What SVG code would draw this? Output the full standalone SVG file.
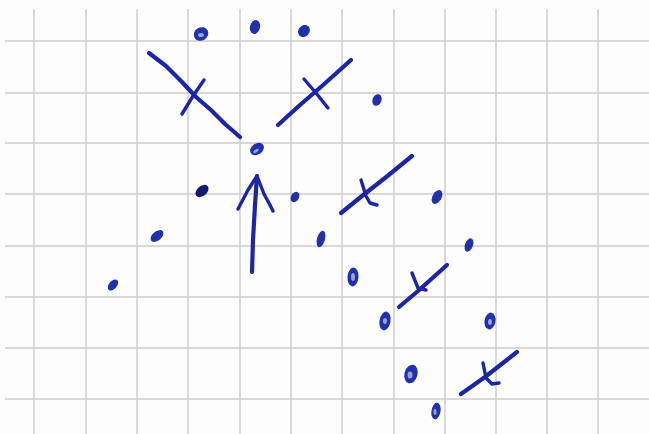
<svg xmlns="http://www.w3.org/2000/svg" width="649" height="434" viewBox="0 0 649 434">
<style>
.g{stroke:#cbcbcb;stroke-width:1.4;fill:none}
.ink{stroke:#1c25a3;stroke-linecap:round;stroke-linejoin:round;fill:none}
.t{stroke-width:4.2}
.m{stroke-width:3.4}
.d{fill:#2230ab}
.h{fill:#98a2dc}
</style>
<rect width="649" height="434" fill="#fdfdfd"/>
<g id="grid">
<path class="g" d="M34 9V434M86 9V434M137 9V434M188 9V434M240 9V434M291 9V434M342 9V434M394 9V434M445 9V434M496 9V434M547 9V434M598 9V434"/>
<path class="g" d="M5 41H649M5 93H649M5 143H649M5 194H649M5 246H649M5 297H649M5 348H649M5 399H649"/>
</g>
<g id="dots">
<ellipse class="d" cx="201" cy="34" rx="7.5" ry="6.5" transform="rotate(-30 201 34)"/>
<ellipse class="h" cx="201" cy="35" rx="3" ry="2"/>
<ellipse class="d" cx="255" cy="27" rx="5" ry="7" transform="rotate(15 255 27)"/>
<ellipse class="d" cx="304" cy="31" rx="5.5" ry="6.5" transform="rotate(40 304 31)"/>
<ellipse class="d" cx="377" cy="100" rx="4.5" ry="6" transform="rotate(20 377 100)"/>
<ellipse class="d" cx="257" cy="149" rx="7.5" ry="5.5" transform="rotate(-35 257 149)"/>
<ellipse class="h" cx="256" cy="151" rx="3" ry="1.5" transform="rotate(-35 256 151)"/>
<ellipse fill="#101a70" cx="202" cy="191" rx="7.5" ry="5" transform="rotate(-40 202 191)"/>
<ellipse class="d" cx="295" cy="197" rx="4" ry="5.5" transform="rotate(30 295 197)"/>
<ellipse class="d" cx="437" cy="197" rx="4.5" ry="7.5" transform="rotate(30 437 197)"/>
<ellipse class="d" cx="321" cy="239" rx="4" ry="8.5" transform="rotate(15 321 239)"/>
<ellipse class="d" cx="157" cy="236" rx="7.5" ry="4.5" transform="rotate(-40 157 236)"/>
<ellipse class="d" cx="113" cy="285" rx="4" ry="6.5" transform="rotate(40 113 285)"/>
<ellipse class="d" cx="469" cy="245" rx="4" ry="7" transform="rotate(20 469 245)"/>
<ellipse class="d" cx="353" cy="277" rx="5.5" ry="9.5" transform="rotate(5 353 277)"/>
<ellipse class="h" cx="353" cy="277" rx="2" ry="4"/>
<ellipse class="d" cx="385" cy="321" rx="5.5" ry="9.5" transform="rotate(10 385 321)"/>
<ellipse class="h" cx="385" cy="321" rx="2" ry="3"/>
<ellipse class="d" cx="490" cy="321" rx="5.5" ry="8.5" transform="rotate(10 490 321)"/>
<ellipse class="h" cx="490" cy="322" rx="2" ry="3"/>
<ellipse class="d" cx="411" cy="374" rx="6.5" ry="9.5" transform="rotate(15 411 374)"/>
<ellipse class="h" cx="410" cy="375" rx="2.5" ry="3.5"/>
<ellipse class="d" cx="436" cy="411" rx="4.5" ry="8.5" transform="rotate(10 436 411)"/>
<ellipse class="h" cx="435" cy="412" rx="1.5" ry="3"/>
</g>
<g id="cross1">
<path class="ink t" d="M149 53 L166 66 L182 82 L196 97 L211 110 L225 124 L240 137"/>
<path class="ink m" d="M182 114 L193 96 L204 80"/>
</g>
<g id="cross2">
<path class="ink t" d="M278 125 L300 105 L322 86 L351 60"/>
<path class="ink m" d="M304 79 L316 93 L328 108"/>
</g>
<g id="arrow">
<path class="ink t" d="M252 272 L253 240 L255 205 L257 176"/>
<path class="ink m" d="M238 209 L248 190 L257 176 L264 194 L270 205 L273 211"/>
</g>
<g id="cross3">
<path class="ink t" d="M341 213 L362 196 L385 178 L412 156"/>
<path class="ink m" d="M361 180 L366 196 L370 203 L377 205"/>
</g>
<g id="cross4">
<path class="ink t" d="M399 307 L418 291 L447 265"/>
<path class="ink m" d="M412 273 L418 288 L426 290"/>
</g>
<g id="cross5">
<path class="ink t" d="M461 394 L485 377 L517 352"/>
<path class="ink m" d="M483 363 L486 378 L492 384 L499 383"/>
</g>
</svg>
